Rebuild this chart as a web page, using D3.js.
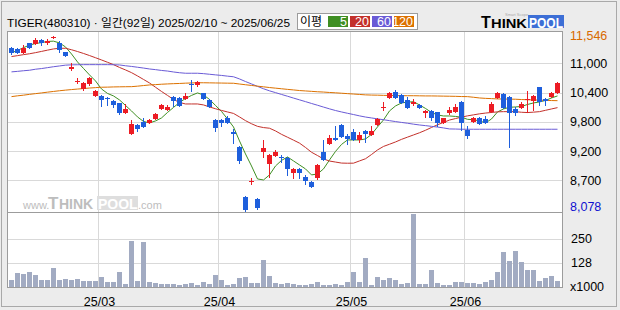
<!DOCTYPE html>
<html>
<head>
<meta charset="utf-8">
<script src="https://cdn.jsdelivr.net/npm/d3@7/dist/d3.min.js"></script>
<style>
body { margin: 0; background: #ececec; }
svg text { font-family: "Liberation Sans", "Noto Sans CJK KR", sans-serif; }
</style>
</head>
<body>
<svg id="chart" width="620" height="310"></svg>
<script>
// daily prices, 2025/02/10 ~ 2025/06/25 (92 trading days)
var openP = [11295, 11276, 11209, 11394, 11380, 11459, 11400, 11515, 11394, 11217,
    10890, 10650, 10489, 10588, 10363, 10358, 10324, 10259, 10214, 10029,
    9610, 9788, 9840, 9821, 9911, 10096, 10082, 10344, 10324, 10305,
    10594, 10568, 10411, 10279, 9886, 9886, 9919, 9644, 9361, 8378,
    8673, 8339, 9257, 9021, 9178, 9158, 9145, 8850, 8923, 8771,
    8667, 8740, 9257, 9420, 9538, 9788, 9571, 9644, 9493, 9670,
    9591, 9788, 10138, 10324, 10442, 10377, 10279, 10194, 10181, 10029,
    10069, 10034, 9833, 10029, 10049, 10245, 9689, 9852, 9931, 9900,
    10037, 10324, 10397, 10344, 10102, 10128, 10273, 10259, 10529, 10299,
    10344, 10411];
var highP = [11311, 11291, 11360, 11400, 11492, 11468, 11478, 11546, 11439, 11223,
    11000, 10705, 10633, 10731, 10476, 10368, 10338, 10269, 10220, 10200,
    9886, 9797, 9931, 9911, 10029, 10200, 10175, 10348, 10338, 10411,
    10672, 10653, 10417, 10289, 9896, 9896, 9970, 9709, 9365, 8382,
    8740, 8358, 9493, 9208, 9296, 9198, 9149, 8932, 8932, 8805,
    8677, 9021, 9493, 9591, 9762, 9797, 9611, 9709, 9656, 9679,
    9762, 9915, 10246, 10427, 10476, 10387, 10344, 10299, 10190, 10073,
    10082, 10044, 9925, 10147, 10200, 10250, 9768, 9935, 9945, 9964,
    10246, 10442, 10407, 10348, 10135, 10246, 10456, 10367, 10535, 10308,
    10436, 10623];
var lowP = [11183, 11193, 11203, 11301, 11370, 11360, 11380, 11500, 11217, 11134,
    10860, 10607, 10476, 10574, 10358, 10161, 10181, 10147, 10004, 10023,
    9601, 9670, 9748, 9817, 9905, 10092, 10073, 10161, 10151, 10299,
    10456, 10554, 10289, 10141, 9675, 9774, 9827, 9440, 9046, 8078,
    8628, 8136, 9164, 8771, 9168, 9066, 8805, 8751, 8751, 8622,
    8568, 8732, 9090, 9414, 9483, 9552, 9408, 9483, 9459, 9459,
    9581, 9778, 10082, 10318, 10308, 10220, 10122, 10181, 10122, 9951,
    9886, 9774, 9827, 10004, 10043, 9689, 9538, 9846, 9797, 9827,
    10033, 10318, 10122, 9349, 9984, 10122, 10049, 10082, 10181, 10181,
    10338, 10407];
var closeP = [11197, 11209, 11295, 11307, 11459, 11406, 11439, 11520, 11262, 11144,
    10930, 10660, 10607, 10705, 10456, 10279, 10293, 10181, 10017, 10096,
    9801, 9709, 9754, 9886, 9998, 10181, 10147, 10259, 10161, 10363,
    10580, 10639, 10293, 10147, 9723, 9833, 9833, 9616, 9086, 8116,
    8683, 8162, 9341, 9198, 9257, 9133, 8923, 8923, 8850, 8692,
    8574, 9001, 9099, 9538, 9493, 9557, 9518, 9493, 9591, 9605,
    9675, 9900, 10148, 10411, 10312, 10226, 10128, 10246, 10128, 10069,
    9931, 9833, 9919, 10082, 10147, 9833, 9571, 9919, 9801, 9833,
    10200, 10411, 10128, 10017, 10029, 10200, 10299, 10363, 10246, 10259,
    10422, 10619];
// volume, x1000
var volume = [40, 76, 71, 81, 66, 40, 40, 101, 42, 46,
    40, 46, 35, 34, 35, 56, 30, 30, 81, 20,
    238, 35, 233, 30, 25, 20, 20, 20, 17, 20,
    25, 17, 30, 22, 66, 40, 15, 20, 51, 56,
    25, 25, 142, 61, 25, 22, 25, 20, 17, 15,
    20, 30, 15, 15, 20, 15, 30, 81, 30, 152,
    15, 56, 40, 51, 40, 20, 25, 374, 20, 20,
    91, 25, 15, 15, 30, 30, 25, 25, 20, 30,
    40, 81, 182, 137, 187, 132, 91, 91, 35, 51,
    61, 35];
// moving averages
var ma5 = [11203, 11254, 11307, 11358, 11388, 11406, 11429, 11435, 11400, 11321,
    11183, 11026, 10898, 10771, 10653, 10495, 10407, 10358, 10279, 10171,
    10063, 9945, 9856, 9827, 9866, 9925, 10033, 10132, 10230, 10308,
    10368, 10417, 10377, 10289, 10171, 10053, 9905, 9748, 9473, 9217,
    8981, 8726, 8706, 8805, 8981, 9090, 9158, 9080, 9001, 8923,
    8805, 8824, 8923, 9099, 9267, 9404, 9493, 9493, 9493, 9512,
    9601, 9748, 9886, 10063, 10161, 10220, 10236, 10244, 10181, 10112,
    10033, 9984, 9964, 9964, 9955, 9939, 9898, 9890, 9866, 9827,
    9905, 10043, 10102, 10135, 10141, 10151, 10190, 10220, 10240, 10269,
    10318, 10358];
var ma20 = [11132, 11150, 11170, 11187, 11209, 11233, 11258, 11282, 11295, 11295,
    11266, 11231, 11193, 11152, 11109, 11065, 11020, 10973, 10918, 10869,
    10816, 10751, 10682, 10613, 10529, 10446, 10368, 10289, 10230, 10200,
    10200, 10200, 10181, 10141, 10106, 10073, 10043, 10014, 9945, 9872,
    9811, 9760, 9736, 9723, 9670, 9603, 9546, 9489, 9430, 9345,
    9251, 9186, 9119, 9078, 9058, 9038, 9035, 9036, 9080, 9123,
    9206, 9296, 9365, 9408, 9453, 9504, 9548, 9591, 9634, 9683,
    9738, 9791, 9837, 9884, 9913, 9941, 9966, 9986, 10006, 10021,
    10033, 10045, 10049, 10049, 10049, 10037, 10031, 10039, 10049, 10075,
    10102, 10128];
var ma60 = [10831, 10841, 10853, 10863, 10883, 10896, 10914, 10932, 10947, 10963,
    10969, 10971, 10973, 10973, 10973, 10973, 10973, 10971, 10967, 10951,
    10938, 10922, 10906, 10888, 10875, 10859, 10847, 10829, 10814, 10804,
    10804, 10804, 10796, 10784, 10772, 10761, 10747, 10735, 10692, 10641,
    10594, 10546, 10499, 10458, 10423, 10387, 10352, 10316, 10281, 10246,
    10210, 10175, 10139, 10104, 10071, 10043, 10017, 9992, 9966, 9943,
    9925, 9907, 9890, 9872, 9854, 9837, 9821, 9803, 9787, 9774,
    9760, 9746, 9729, 9709, 9707, 9703, 9703, 9703, 9703, 9703,
    9703, 9703, 9703, 9703, 9703, 9703, 9703, 9703, 9703, 9703,
    9703, 9703];
var ma120 = [10344, 10360, 10373, 10389, 10403, 10417, 10432, 10446, 10460, 10472,
    10483, 10493, 10503, 10513, 10521, 10529, 10531, 10535, 10537, 10539,
    10540, 10550, 10562, 10574, 10580, 10588, 10594, 10599, 10603, 10609,
    10613, 10617, 10617, 10615, 10613, 10611, 10609, 10607, 10592, 10578,
    10564, 10550, 10537, 10523, 10511, 10499, 10487, 10476, 10464, 10456,
    10448, 10440, 10434, 10426, 10419, 10411, 10403, 10395, 10387, 10379,
    10375, 10373, 10369, 10367, 10365, 10363, 10362, 10362, 10360, 10358,
    10358, 10356, 10354, 10352, 10350, 10346, 10344, 10332, 10318, 10310,
    10305, 10299, 10297, 10295, 10293, 10287, 10283, 10279, 10275, 10271,
    10267, 10265];

var monthIndex = [15, 35, 57, 76];
var monthLabels = ["25/03", "25/04", "25/05", "25/06"];
var priceTicks = [11000, 10425, 9850, 9275, 8700];
var priceTickLabels = ["11,000", "10,400", "9,800", "9,200", "8,700"];
var volTicks = [250, 128];
var maNames = ["5", "20", "60", "120"];
var maColors = ["#3f8f23", "#c3312b", "#6a5bd6", "#dc7100"];
var titleText = "TIGER(480310) · 일간(92일) 2025/02/10 ~ 2025/06/25";

var upColor = "#ec1c24", downColor = "#1e5fdc";
var svg = d3.select("#chart");
var L = 7.5, R = 562.5, T = 31.5, MID = 212.5, B = 287.5;
var n = closeP.length;

// frame
svg.append("rect").attr("x", 1.5).attr("y", 1.5).attr("width", 615).attr("height", 305)
    .attr("fill", "#ececec").attr("stroke", "#a9a9a9");
svg.append("rect").attr("x", L).attr("y", T).attr("width", R - L).attr("height", B - T)
    .attr("fill", "#fff");

var x = d3.scaleBand().domain(d3.range(n)).range([8.5, 8.5 + 6 * n]);
var cx = function (i) { return x(i) + 3; };
var hiMax = d3.max(highP), loMin = d3.min(lowP);
var y = d3.scaleLinear().domain([loMin, hiMax]).range([211.9, 35.5]);
var yv = d3.scaleLinear().domain([0, 250]).range([B + 0.5, 238.6]);

var grid = svg.append("g").attr("stroke", "#d9d9d9").attr("shape-rendering", "crispEdges");
grid.selectAll(".hp").data(priceTicks).enter().append("line")
    .attr("x1", L).attr("x2", R)
    .attr("y1", function (d) { return Math.round(y(d)) + 0.5; })
    .attr("y2", function (d) { return Math.round(y(d)) + 0.5; });
grid.selectAll(".hv").data(volTicks).enter().append("line")
    .attr("x1", L).attr("x2", R)
    .attr("y1", function (d) { return Math.round(yv(d)) + 0.5; })
    .attr("y2", function (d) { return Math.round(yv(d)) + 0.5; });
grid.selectAll(".vx").data(monthIndex).enter().append("line")
    .attr("y1", T).attr("y2", B)
    .attr("x1", function (d) { return x(d); })
    .attr("x2", function (d) { return x(d); });

// watermark
var wm = svg.append("g").attr("fill", "#bdbdbd");
wm.append("text").attr("x", 23).attr("y", 209).attr("font-size", 11).text("www.");
wm.append("text").attr("x", 48).attr("y", 209).attr("font-size", 17).attr("font-weight", "bold").text("T");
wm.append("text").attr("x", 59).attr("y", 209).attr("font-size", 14).attr("font-weight", "bold").text("HINK");
wm.append("rect").attr("x", 97).attr("y", 196).attr("width", 41).attr("height", 14).attr("fill", "#dedede");
wm.append("text").attr("x", 98).attr("y", 209).attr("font-size", 14).attr("font-weight", "bold")
    .attr("fill", "#fff").text("POOL");
wm.append("text").attr("x", 138).attr("y", 209).attr("font-size", 11).text(".com");

// volume bars
svg.append("g").attr("shape-rendering", "crispEdges").selectAll("rect").data(volume).enter().append("rect")
    .attr("x", function (d, i) { return x(i) + 0.5; })
    .attr("width", 5)
    .attr("y", function (d) { return Math.round(yv(d)); })
    .attr("height", function (d) { return B + 0.5 - Math.round(yv(d)); })
    .attr("fill", "#a2abc2");

// moving averages
var maData = [ma5, ma20, ma60, ma120];
var line = d3.line().x(function (d, i) { return cx(i); }).y(function (d) { return y(d); });
svg.append("g").selectAll("path").data(maData).enter().append("path")
    .attr("d", line).attr("fill", "none").attr("stroke-width", 1)
    .attr("stroke", function (d, i) { return maColors[i]; });

// candles
var c = svg.append("g").attr("shape-rendering", "crispEdges").selectAll("g").data(d3.range(n)).enter().append("g");
var col = function (i) { return closeP[i] >= openP[i] ? upColor : downColor; };
c.append("line")
    .attr("x1", cx).attr("x2", cx)
    .attr("y1", function (i) { return Math.round(y(highP[i])); })
    .attr("y2", function (i) { return Math.round(y(lowP[i])) + 1; })
    .attr("stroke", col);
c.append("rect")
    .attr("x", function (i) { return x(i) + 0.5; })
    .attr("width", 5)
    .attr("y", function (i) { return Math.round(y(Math.max(openP[i], closeP[i]))); })
    .attr("height", function (i) {
        var h = Math.round(y(Math.min(openP[i], closeP[i]))) - Math.round(y(Math.max(openP[i], closeP[i])));
        return Math.max(1, h);
    })
    .attr("fill", col);

// borders
var bd = svg.append("g").attr("stroke", "#9c9c9c").attr("fill", "none").attr("shape-rendering", "crispEdges");
bd.append("rect").attr("x", L).attr("y", T).attr("width", R - L).attr("height", B - T);
bd.append("line").attr("x1", L).attr("x2", R).attr("y1", MID).attr("y2", MID);

// right axis labels
var ax = svg.append("g").attr("font-size", 12.5).attr("fill", "#000");
ax.selectAll(".pl").data(priceTicks).enter().append("text")
    .attr("x", 570).attr("y", function (d) { return y(d); }).attr("dy", "0.36em")
    .text(function (d, i) { return priceTickLabels[i]; });
ax.append("text").attr("x", 570).attr("y", y(hiMax)).attr("dy", "0.36em").attr("fill", "#d86a00")
    .text(d3.format(",")(hiMax));
ax.append("text").attr("x", 570).attr("y", y(loMin) - 5).attr("dy", "0.36em").attr("fill", "#1010d0")
    .text(d3.format(",")(loMin));
ax.selectAll(".vl").data(volTicks).enter().append("text")
    .attr("x", 571).attr("y", function (d) { return yv(d); }).attr("dy", "0.36em")
    .text(function (d) { return d; });
ax.append("text").attr("x", 570).attr("y", 286).attr("dy", "0.36em").text("x1000");

// month labels
svg.append("g").attr("font-size", 12.5).selectAll("text").data(monthIndex).enter().append("text")
    .attr("x", function (d) { return x(d) + 1; }).attr("y", 306)
    .attr("text-anchor", "middle")
    .text(function (d, i) { return monthLabels[i]; });

// title
svg.append("text").attr("x", 7).attr("y", 27).attr("font-size", 11.5)
    .attr("textLength", 283).attr("lengthAdjust", "spacingAndGlyphs").text(titleText);

// MA legend
svg.append("rect").attr("x", 297.5).attr("y", 13.5).attr("width", 120).attr("height", 16)
    .attr("fill", "#fff").attr("stroke", "#9c9c9c");
svg.append("text").attr("x", 300).attr("y", 26).attr("font-size", 12).text("이평");
var lg = svg.append("g").selectAll("g").data(maNames).enter().append("g")
    .attr("transform", function (d, i) { return "translate(" + (328 + 22 * i) + ",16)"; });
lg.append("rect").attr("width", 20).attr("height", 11)
    .attr("fill", function (d, i) { return maColors[i]; });
lg.append("text").attr("x", 19).attr("y", 10).attr("text-anchor", "end")
    .attr("font-size", 12.5).attr("fill", "#fff").text(function (d) { return d; });

// logo
var lo = svg.append("g").attr("font-weight", "bold");
lo.append("text").attr("x", 481).attr("y", 27.5).attr("font-size", 16).text("T");
lo.append("text").attr("x", 491).attr("y", 27.5).attr("font-size", 13)
    .attr("textLength", 36).attr("lengthAdjust", "spacingAndGlyphs").text("HINK");
lo.append("rect").attr("x", 528).attr("y", 15).attr("width", 36).attr("height", 13).attr("fill", "#3d6fd6");
lo.append("text").attr("x", 529).attr("y", 27.5).attr("font-size", 15).attr("fill", "#fff")
    .attr("textLength", 34).attr("lengthAdjust", "spacingAndGlyphs").text("POOL");
lo.append("text").attr("x", 505).attr("y", 16).attr("font-size", 4).attr("font-weight", "normal")
    .attr("fill", "#aaa").text("Smart Scope");
</script>
</body>
</html>
